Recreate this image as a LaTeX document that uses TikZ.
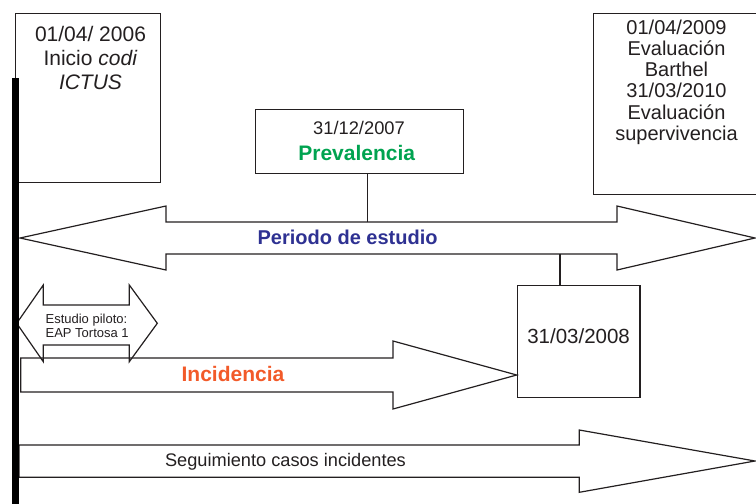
\documentclass[tikz,border=0pt]{standalone}
\usepackage{fontspec}
\setmainfont{Liberation Sans}
\usetikzlibrary{positioning}
\definecolor{prevgreen}{RGB}{0,163,80}
\definecolor{periodblue}{RGB}{46,49,146}
\definecolor{incorange}{RGB}{242,90,41}
\definecolor{ink}{RGB}{35,31,32}

\begin{document}
\begin{tikzpicture}[x=1pt, y=-1pt, line width=1.2pt, color=ink,
	box/.style={draw, rectangle, inner sep=0pt, anchor=north west},
	lbl/.style={inner sep=0pt, anchor=base}]
			\useasboundingbox (0,0) rectangle (756,504);
			
			\node[box, minimum width=145pt, minimum height=169pt] (inicio) at (15,13) {};
			\node[align=center, inner sep=0pt, anchor=north, font=\fontsize{21}{23.7}\selectfont] (iniciotxt) at (90.5,26) {01/04/ 2006\\Inicio \textit{codi}\\\textit{ICTUS}};
			
			\node[box, minimum width=162.5pt, minimum height=181pt] (final) at (593,13) {};
			\node[align=center, inner sep=0pt, anchor=north, font=\fontsize{20}{21.3}\selectfont] (finaltxt) at (676.5,19) {01/04/2009\\Evaluación\\Barthel\\31/03/2010\\Evaluación\\supervivencia};
			
			\node[box, minimum width=208pt, minimum height=64pt] (prev) at (255,109) {};
			\node[lbl, font=\fontsize{18.3}{20}\selectfont] (prevdate) at (359,134) {31/12/2007};
			\node[lbl, font=\fontsize{21}{24}\selectfont\bfseries, text=prevgreen] (prevtxt) at (356.7,160) {Prevalencia};
			
			\draw (20,238) -- (166,206) -- (166,222) -- (617,222) -- (617,206) -- (755,238) -- (617,270) -- (617,254) -- (166,254) -- (166,270) -- cycle;
			\coordinate (pertop) at (367.7,222);
			\coordinate (perbot) at (560,254);
			\node[lbl, font=\fontsize{20}{24}\selectfont\bfseries, text=periodblue] (pertxt) at (347.6,244) {Periodo de estudio};
			
			\node[box, minimum width=122.6pt, minimum height=111.7pt, text depth=10pt, font=\fontsize{20.5}{24}\selectfont] (corte) at (516.7,285) {31/03/2008};
			
			\draw (pertop |- prev.south) -- (pertop);
			\draw (perbot) -- (perbot |- corte.north);
			
			\draw (16.7,323.3) -- (43.3,285) -- (43.3,305) -- (129.3,305) -- (129.3,285) -- (157.3,323.3) -- (129.3,361.7) -- (129.3,345) -- (43.3,345) -- (43.3,361.7) -- cycle;
			\node[align=left, inner sep=0pt, anchor=north west, font=\fontsize{13}{14}\selectfont] (pilototxt) at (45,313.4) {Estudio piloto:\\EAP Tortosa 1};
			
			\draw (20.7,358) -- (393,358) -- (393,341) -- (corte.west |- 0,375) -- (393,409) -- (393,392) -- (20.7,392) -- cycle;
			\node[lbl, font=\fontsize{21}{24}\selectfont\bfseries, text=incorange] (inctxt) at (233,381.7) {Incidencia};
			
			\draw (19,445) -- (579.3,445) -- (579.3,430) -- (755,461) -- (579.3,492.3) -- (579.3,477.3) -- (19,477.3) -- cycle;
			\node[lbl, font=\fontsize{18.2}{20}\selectfont] (segtxt) at (285.5,466) {Seguimiento casos incidentes};
			
			\fill[black] (12,78) rectangle (19,504);
\end{tikzpicture}
\end{document}
